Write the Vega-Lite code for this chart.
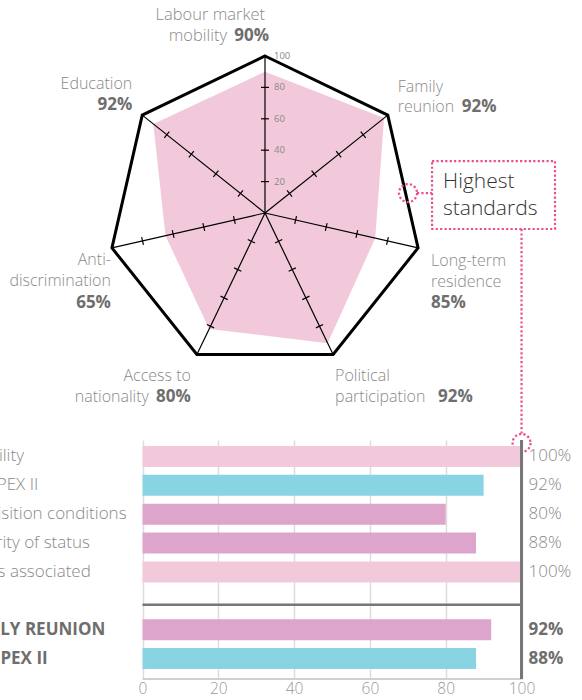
{
  "$schema": "https://vega.github.io/schema/vega-lite/v6.json",
  "padding": 0,
  "background": "white",
  "spacing": 0,
  "bounds": "flush",
  "config": {"view": {"stroke": null}, "font": "Open Sans", "text": {"font": "Open Sans"}},
  "datasets": {
    "radar": [
      {"idx": 0, "dimension": "Labour market mobility", "score": 90, "plotted": 90, "ticks": [20, 40, 60, 80]},
      {"idx": 1, "dimension": "Family reunion", "score": 92, "plotted": 97, "ticks": [20, 40, 60, 80]},
      {"idx": 2, "dimension": "Long-term residence", "score": 85, "plotted": 72, "ticks": [20, 40, 60, 80]},
      {"idx": 3, "dimension": "Political participation", "score": 92, "plotted": 92, "ticks": [20, 40, 60, 80]},
      {"idx": 4, "dimension": "Access to nationality", "score": 80, "plotted": 82, "ticks": [20, 40, 60, 80]},
      {"idx": 5, "dimension": "Anti-discrimination", "score": 65, "plotted": 65, "ticks": [20, 40, 60, 80]},
      {"idx": 6, "dimension": "Education", "score": 92, "plotted": 91, "ticks": [20, 40, 60, 80]}
    ],
    "family": [
      {"item": "Eligibility", "label": "Eligibility", "series": "MIPEX III", "score": 100, "reported": "100%", "total": false},
      {"item": "Eligibility (MIPEX II)", "label": "In MIPEX II", "series": "MIPEX II", "score": 90, "reported": "92%", "total": false},
      {"item": "Acquisition conditions", "label": "Acquisition conditions", "series": "MIPEX III", "score": 80, "reported": "80%", "total": false},
      {"item": "Security of status", "label": "Security of status", "series": "MIPEX III", "score": 88, "reported": "88%", "total": false},
      {"item": "Rights associated", "label": "Rights associated", "series": "MIPEX III", "score": 100, "reported": "100%", "total": false},
      {"item": "FAMILY REUNION", "label": "FAMILY REUNION", "series": "MIPEX III", "score": 92, "reported": "92%", "total": true},
      {"item": "FAMILY REUNION (MIPEX II)", "label": "In MIPEX II", "series": "MIPEX II", "score": 88, "reported": "88%", "total": true}
    ]
  },
  "vconcat": [
    {
      "width": 582,
      "height": 440,
      "layer": [
        {
          "data": {"name": "radar"},
          "transform": [
            {"calculate": "datum.idx * 2 * PI / 7", "as": "ang"},
            {"calculate": "100 * sin(datum.ang)", "as": "ox"},
            {"calculate": "100 * cos(datum.ang)", "as": "oy"},
            {"calculate": "datum.plotted * sin(datum.ang)", "as": "sx"},
            {"calculate": "datum.plotted * cos(datum.ang)", "as": "sy"},
            {"calculate": "datum.score + '%'", "as": "pct"}
          ],
          "layer": [
            {
              "mark": {"type": "line", "interpolate": "linear-closed", "fill": "#f2c9da", "stroke": null},
              "encoding": {
                "x": {"field": "sx", "type": "quantitative", "scale": {"domain": [-168.79, 201.91], "nice": false, "zero": false}, "axis": null},
                "y": {"field": "sy", "type": "quantitative", "scale": {"domain": [-144.59, 135.67], "nice": false, "zero": false}, "axis": null},
                "order": {"field": "idx", "type": "quantitative"}
              }
            },
            {
              "mark": {"type": "rule", "stroke": "#000000", "strokeWidth": 1.2},
              "encoding": {
                "x": {"field": "ox", "type": "quantitative"},
                "y": {"field": "oy", "type": "quantitative"},
                "x2": {"datum": 0},
                "y2": {"datum": 0}
              }
            },
            {
              "transform": [
                {"flatten": ["ticks"]},
                {"calculate": "datum.ticks * sin(datum.ang)", "as": "tx"},
                {"calculate": "datum.ticks * cos(datum.ang)", "as": "ty"},
                {"calculate": "datum.idx * 360 / 7", "as": "deg"}
              ],
              "mark": {"type": "point", "shape": "stroke", "size": 64, "stroke": "#000000", "strokeWidth": 1.2, "filled": false, "opacity": 1},
              "encoding": {
                "x": {"field": "tx", "type": "quantitative"},
                "y": {"field": "ty", "type": "quantitative"},
                "angle": {"field": "deg", "type": "quantitative", "scale": null}
              }
            },
            {
              "mark": {"type": "line", "interpolate": "linear-closed", "stroke": "#000000", "strokeWidth": 3, "strokeJoin": "miter"},
              "encoding": {
                "x": {"field": "ox", "type": "quantitative"},
                "y": {"field": "oy", "type": "quantitative"},
                "order": {"field": "idx", "type": "quantitative"}
              }
            },
            {
              "transform": [{"filter": "datum.idx == 0"}],
              "layer": [
                {"mark": {"type": "text", "align": "right", "baseline": "alphabetic", "dx": 0, "dy": -36, "fontSize": 16.5, "fontWeight": 300, "color": "#8a8a8a"},
                 "encoding": {"x": {"field": "ox", "type": "quantitative"}, "y": {"field": "oy", "type": "quantitative"}, "text": {"value": "Labour market"}}},
                {"mark": {"type": "text", "align": "right", "baseline": "alphabetic", "dx": -38, "dy": -15, "fontSize": 16.5, "fontWeight": 300, "color": "#8a8a8a"},
                 "encoding": {"x": {"field": "ox", "type": "quantitative"}, "y": {"field": "oy", "type": "quantitative"}, "text": {"value": "mobility"}}},
                {"mark": {"type": "text", "align": "right", "baseline": "alphabetic", "dx": 4, "dy": -15, "fontSize": 17, "fontWeight": "bold", "color": "#6e6e6e"},
                 "encoding": {"x": {"field": "ox", "type": "quantitative"}, "y": {"field": "oy", "type": "quantitative"}, "text": {"field": "pct"}}}
              ]
            },
            {
              "transform": [{"filter": "datum.idx == 1"}],
              "layer": [
                {"mark": {"type": "text", "align": "left", "baseline": "alphabetic", "dx": 10, "dy": -23, "lineHeight": 20, "fontSize": 16, "fontWeight": 300, "color": "#8a8a8a"},
                 "encoding": {"x": {"field": "ox", "type": "quantitative"}, "y": {"field": "oy", "type": "quantitative"}, "text": {"value": ["Family", "reunion"]}}},
                {"mark": {"type": "text", "align": "left", "baseline": "alphabetic", "dx": 74, "dy": -3, "fontSize": 17, "fontWeight": "bold", "color": "#6e6e6e"},
                 "encoding": {"x": {"field": "ox", "type": "quantitative"}, "y": {"field": "oy", "type": "quantitative"}, "text": {"field": "pct"}}}
              ]
            },
            {
              "transform": [{"filter": "datum.idx == 2"}],
              "layer": [
                {"mark": {"type": "text", "align": "left", "baseline": "alphabetic", "dx": 13, "dy": 18, "lineHeight": 21, "fontSize": 16, "fontWeight": 300, "color": "#8a8a8a"},
                 "encoding": {"x": {"field": "ox", "type": "quantitative"}, "y": {"field": "oy", "type": "quantitative"}, "text": {"value": ["Long-term", "residence"]}}},
                {"mark": {"type": "text", "align": "left", "baseline": "alphabetic", "dx": 13, "dy": 60, "fontSize": 17, "fontWeight": "bold", "color": "#6e6e6e"},
                 "encoding": {"x": {"field": "ox", "type": "quantitative"}, "y": {"field": "oy", "type": "quantitative"}, "text": {"field": "pct"}}}
              ]
            },
            {
              "transform": [{"filter": "datum.idx == 3"}],
              "layer": [
                {"mark": {"type": "text", "align": "left", "baseline": "alphabetic", "dx": 2, "dy": 27, "lineHeight": 21, "fontSize": 16, "fontWeight": 300, "color": "#8a8a8a"},
                 "encoding": {"x": {"field": "ox", "type": "quantitative"}, "y": {"field": "oy", "type": "quantitative"}, "text": {"value": ["Political", "participation"]}}},
                {"mark": {"type": "text", "align": "left", "baseline": "alphabetic", "dx": 105, "dy": 48, "fontSize": 17, "fontWeight": "bold", "color": "#6e6e6e"},
                 "encoding": {"x": {"field": "ox", "type": "quantitative"}, "y": {"field": "oy", "type": "quantitative"}, "text": {"field": "pct"}}}
              ]
            },
            {
              "transform": [{"filter": "datum.idx == 4"}],
              "layer": [
                {"mark": {"type": "text", "align": "right", "baseline": "alphabetic", "dx": -6, "dy": 27, "fontSize": 16, "fontWeight": 300, "color": "#8a8a8a"},
                 "encoding": {"x": {"field": "ox", "type": "quantitative"}, "y": {"field": "oy", "type": "quantitative"}, "text": {"value": "Access to"}}},
                {"mark": {"type": "text", "align": "right", "baseline": "alphabetic", "dx": -48, "dy": 48, "fontSize": 16, "fontWeight": 300, "color": "#8a8a8a"},
                 "encoding": {"x": {"field": "ox", "type": "quantitative"}, "y": {"field": "oy", "type": "quantitative"}, "text": {"value": "nationality"}}},
                {"mark": {"type": "text", "align": "right", "baseline": "alphabetic", "dx": -6, "dy": 48, "fontSize": 17, "fontWeight": "bold", "color": "#6e6e6e"},
                 "encoding": {"x": {"field": "ox", "type": "quantitative"}, "y": {"field": "oy", "type": "quantitative"}, "text": {"field": "pct"}}}
              ]
            },
            {
              "transform": [{"filter": "datum.idx == 5"}],
              "layer": [
                {"mark": {"type": "text", "align": "right", "baseline": "alphabetic", "dx": -1, "dy": 17, "lineHeight": 21, "fontSize": 16, "fontWeight": 300, "color": "#8a8a8a"},
                 "encoding": {"x": {"field": "ox", "type": "quantitative"}, "y": {"field": "oy", "type": "quantitative"}, "text": {"value": ["Anti-", "discrimination"]}}},
                {"mark": {"type": "text", "align": "right", "baseline": "alphabetic", "dx": -1, "dy": 60, "fontSize": 17, "fontWeight": "bold", "color": "#6e6e6e"},
                 "encoding": {"x": {"field": "ox", "type": "quantitative"}, "y": {"field": "oy", "type": "quantitative"}, "text": {"field": "pct"}}}
              ]
            },
            {
              "transform": [{"filter": "datum.idx == 6"}],
              "layer": [
                {"mark": {"type": "text", "align": "right", "baseline": "alphabetic", "dx": -10, "dy": -26, "fontSize": 16, "fontWeight": 300, "color": "#8a8a8a"},
                 "encoding": {"x": {"field": "ox", "type": "quantitative"}, "y": {"field": "oy", "type": "quantitative"}, "text": {"value": "Education"}}},
                {"mark": {"type": "text", "align": "right", "baseline": "alphabetic", "dx": -10, "dy": -5, "fontSize": 17, "fontWeight": "bold", "color": "#6e6e6e"},
                 "encoding": {"x": {"field": "ox", "type": "quantitative"}, "y": {"field": "oy", "type": "quantitative"}, "text": {"field": "pct"}}}
              ]
            }
          ]
        },
        {
          "data": {"values": [{"level": 20}, {"level": 40}, {"level": 60}, {"level": 80}, {"level": 100}]},
          "mark": {"type": "text", "align": "left", "baseline": "middle", "dx": 9, "fontSize": 9.5, "color": "#888888"},
          "encoding": {
            "x": {"datum": 0, "type": "quantitative"},
            "y": {"field": "level", "type": "quantitative"},
            "text": {"field": "level", "type": "quantitative"}
          }
        },
        {
          "data": {"values": [{"note": ["Highest", "standards"]}]},
          "layer": [
            {
              "mark": {"type": "rect", "fill": null, "stroke": "#ec4d8e", "strokeWidth": 2.2, "strokeDash": [2.2, 2.2]},
              "encoding": {
                "x": {"datum": 106.4, "type": "quantitative"},
                "x2": {"datum": 184.7},
                "y": {"datum": 33.1, "type": "quantitative"},
                "y2": {"datum": -10.2}
              }
            },
            {
              "mark": {"type": "text", "align": "left", "baseline": "alphabetic", "fontSize": 21, "fontWeight": 300, "lineHeight": 27, "color": "#333333"},
              "encoding": {
                "x": {"datum": 113.4, "type": "quantitative"},
                "y": {"datum": 15.9, "type": "quantitative"},
                "text": {"field": "note"}
              }
            },
            {
              "mark": {"type": "point", "shape": "circle", "size": 324, "filled": false, "stroke": "#ec4d8e", "strokeWidth": 2.2, "strokeDash": [2.2, 2.2], "opacity": 1},
              "encoding": {
                "x": {"datum": 91.1, "type": "quantitative"},
                "y": {"datum": 12.7, "type": "quantitative"}
              }
            },
            {
              "mark": {"type": "rule", "stroke": "#ec4d8e", "strokeWidth": 2.2, "strokeDash": [2.2, 2.2]},
              "encoding": {
                "x": {"datum": 96.8, "type": "quantitative"},
                "x2": {"datum": 106.4},
                "y": {"datum": 12.7, "type": "quantitative"}
              }
            },
            {
              "mark": {"type": "rule", "stroke": "#ec4d8e", "strokeWidth": 2.2, "strokeDash": [2.2, 2.2]},
              "encoding": {
                "x": {"datum": 163.4, "type": "quantitative"},
                "y": {"datum": -10.2, "type": "quantitative"},
                "y2": {"datum": -140.5}
              }
            },
            {
              "mark": {"type": "point", "shape": "circle", "size": 324, "filled": false, "stroke": "#ec4d8e", "strokeWidth": 2.2, "strokeDash": [2.2, 2.2], "opacity": 1},
              "encoding": {
                "x": {"datum": 163.4, "type": "quantitative"},
                "y": {"datum": -146.5, "type": "quantitative"}
              }
            }
          ]
        }
      ]
    },
    {
      "width": 582,
      "height": 239,
      "data": {"name": "family"},
      "layer": [
        {
          "mark": {"type": "bar"},
          "encoding": {
            "y": {
              "field": "item", "type": "nominal",
              "scale": {
                "domain": ["Eligibility", "Eligibility (MIPEX II)", "Acquisition conditions", "Security of status", "Rights associated", "gap", "FAMILY REUNION", "FAMILY REUNION (MIPEX II)"],
                "paddingInner": 0.272, "paddingOuter": 0.277, "align": 0.375
              },
              "axis": null
            },
            "x": {
              "field": "score", "type": "quantitative",
              "scale": {"domain": [-37.6, 115.96], "nice": false, "zero": false},
              "axis": {"values": [0, 20, 40, 60, 80, 100], "grid": true, "gridColor": "#dcdcdc", "gridWidth": 1.5, "domain": false, "ticks": false, "labelFontSize": 15.5, "labelFontWeight": 300, "labelColor": "#999999", "labelPadding": 2, "labelFlush": false, "title": null}
            },
            "x2": {"datum": 0},
            "color": {
              "condition": {"test": "datum.score === 100", "value": "#f2c9da"},
              "field": "series", "type": "nominal",
              "scale": {"domain": ["MIPEX III", "MIPEX II"], "range": ["#dda5cc", "#88d4e3"]},
              "legend": null
            }
          }
        },
        {
          "data": {"values": [{}]},
          "mark": {"type": "rule", "stroke": "#d0d0d0", "strokeWidth": 2},
          "encoding": {"x": {"datum": 0, "type": "quantitative"}, "x2": {"datum": 100}, "y": {"value": "height"}}
        },
        {
          "data": {"values": [{}]},
          "mark": {"type": "rule", "stroke": "#777777", "strokeWidth": 2.5, "yOffset": 4},
          "encoding": {"x": {"datum": 0, "type": "quantitative"}, "x2": {"datum": 100}, "y": {"datum": "gap", "type": "nominal"}}
        },
        {
          "data": {"values": [{}]},
          "mark": {"type": "rule", "stroke": "#777777", "strokeWidth": 3},
          "encoding": {"x": {"datum": 100, "type": "quantitative"}}
        },
        {
          "transform": [{"filter": "!datum.total"}],
          "mark": {"type": "text", "align": "left", "baseline": "middle", "clip": true, "fontSize": 17, "fontWeight": 300, "color": "#8a8a8a"},
          "encoding": {"y": {"field": "item", "type": "nominal"}, "x": {"datum": -48.4, "type": "quantitative"}, "text": {"field": "label", "type": "nominal"}}
        },
        {
          "transform": [{"filter": "datum.total"}],
          "mark": {"type": "text", "align": "left", "baseline": "middle", "clip": true, "fontSize": 17, "fontWeight": "bold", "color": "#6e6e6e"},
          "encoding": {"y": {"field": "item", "type": "nominal"}, "x": {"datum": -48.8, "type": "quantitative"}, "text": {"field": "label", "type": "nominal"}}
        },
        {
          "transform": [{"filter": "!datum.total"}],
          "mark": {"type": "text", "align": "left", "baseline": "middle", "dx": 7, "fontSize": 17, "fontWeight": 300, "color": "#8a8a8a"},
          "encoding": {"y": {"field": "item", "type": "nominal"}, "x": {"datum": 100, "type": "quantitative"}, "text": {"field": "reported", "type": "nominal"}}
        },
        {
          "transform": [{"filter": "datum.total"}],
          "mark": {"type": "text", "align": "left", "baseline": "middle", "dx": 7, "fontSize": 17, "fontWeight": "bold", "color": "#6e6e6e"},
          "encoding": {"y": {"field": "item", "type": "nominal"}, "x": {"datum": 100, "type": "quantitative"}, "text": {"field": "reported", "type": "nominal"}}
        }
      ]
    }
  ]
}
